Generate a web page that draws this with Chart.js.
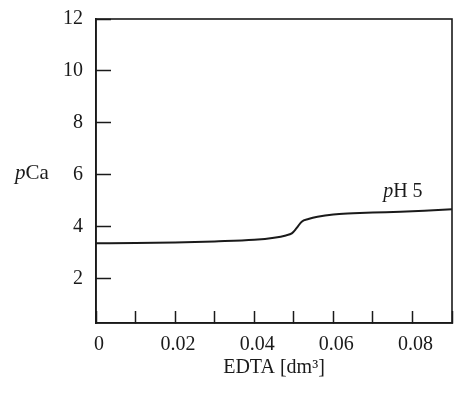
<!DOCTYPE html>
<html>
<head>
<meta charset="utf-8">
<script src="https://cdn.jsdelivr.net/npm/chart.js@4/dist/chart.umd.min.js"></script>
<style>
  html, body { margin: 0; padding: 0; background: #fff; }
</style>
</head>
<body>
<canvas id="pcaChart" width="456" height="398"></canvas>
<script>
// Titration curve: EDTA volume (dm3) vs pCa at pH 5
const edta = [0, 0.01, 0.02, 0.03, 0.04, 0.045, 0.048, 0.0495, 0.0507, 0.052, 0.0537, 0.056, 0.06, 0.065, 0.07, 0.077, 0.083, 0.09];
const pCa  = [3.37, 3.38, 3.40, 3.44, 3.50, 3.58, 3.67, 3.75, 3.95, 4.20, 4.30, 4.39, 4.48, 4.52, 4.55, 4.58, 4.62, 4.68];

// Axis ticks
const xTicks  = [0, 0.01, 0.02, 0.03, 0.04, 0.05, 0.06, 0.07, 0.08, 0.09];
const xLabels = ['0', '', '0.02', '', '0.04', '', '0.06', '', '0.08', ''];
const yTicks  = [2, 4, 6, 8, 10, 12];

const ink = '#1a1a1a';
const serif = '"Liberation Serif", "DejaVu Serif", serif';

// the tick padding is only there to push labels past the inward ticks,
// so don't let it eat into the chart area
function noEdgePadding(scale) {
    scale.paddingTop = 0;
    scale.paddingBottom = 0;
    scale.paddingLeft = 0;
    scale.paddingRight = 0;
}

// box around the plot + the horizontal axis/curve labels
const extras = {
    id: 'extras',
    afterDraw(chart) {
        const { ctx, chartArea: a, scales } = chart;
        ctx.save();
        ctx.strokeStyle = ink;
        ctx.lineWidth = 1.6;
        ctx.strokeRect(a.left, a.top, a.right - a.left, a.bottom - a.top);

        ctx.fillStyle = ink;
        ctx.textBaseline = 'alphabetic';
        ctx.textAlign = 'left';

        // "pCa" written horizontally next to the 6 tick
        let y = scales.y.getPixelForValue(6) + 4;
        ctx.font = 'italic 21px ' + serif;
        ctx.fillText('p', 15, y);
        let w = ctx.measureText('p').width;
        ctx.font = '21px ' + serif;
        ctx.fillText('Ca', 15 + w, y);

        // "pH 5" label over the curve
        const lx = scales.x.getPixelForValue(0.0726);
        const ly = scales.y.getPixelForValue(5.15);
        ctx.font = 'italic 20px ' + serif;
        ctx.fillText('p', lx, ly);
        w = ctx.measureText('p').width;
        ctx.font = '20px ' + serif;
        ctx.fillText('H 5', lx + w, ly);
        ctx.restore();
    }
};

const ctx = document.getElementById('pcaChart').getContext('2d');
new Chart(ctx, {
    type: 'scatter',
    data: {
        datasets: [{
            label: 'pH 5',
            data: edta.map((v, i) => ({ x: v, y: pCa[i] })),
            showLine: true,
            borderColor: ink,
            borderWidth: 2,
            pointRadius: 0,
            cubicInterpolationMode: 'monotone'
        }]
    },
    options: {
        responsive: false,
        animation: false,
        layout: { padding: { top: 19, right: 4, left: 0, bottom: 0 } },
        plugins: {
            legend: { display: false },
            tooltip: { enabled: false }
        },
        scales: {
            x: {
                type: 'linear',
                min: 0,
                max: 0.09,
                afterBuildTicks: scale => { scale.ticks = xTicks.map(v => ({ value: v })); },
                afterFit: scale => { scale.height = 75; noEdgePadding(scale); },
                grid: { drawOnChartArea: false, tickLength: -12, tickWidth: 1.5, tickColor: ink },
                border: { color: ink, width: 1.6 },
                ticks: {
                    padding: 22,
                    labelOffset: 3,
                    maxRotation: 0,
                    autoSkip: false,
                    color: ink,
                    font: { family: serif, size: 20 },
                    callback: (value, index) => xLabels[index]
                },
                title: {
                    display: true,
                    text: 'EDTA [dm³]',
                    color: ink,
                    font: { family: serif, size: 20 },
                    padding: { top: 0, bottom: 18 }
                }
            },
            y: {
                min: 0.3,
                max: 12,
                afterBuildTicks: scale => { scale.ticks = yTicks.map(v => ({ value: v })); },
                afterFit: scale => { scale.width = 96; noEdgePadding(scale); },
                grid: { drawOnChartArea: false, tickLength: -15, tickWidth: 1.5, tickColor: ink },
                border: { color: ink, width: 1.6 },
                ticks: {
                    padding: 28,
                    color: ink,
                    font: { family: serif, size: 20 }
                }
            }
        }
    },
    plugins: [extras]
});
</script>
</body>
</html>
